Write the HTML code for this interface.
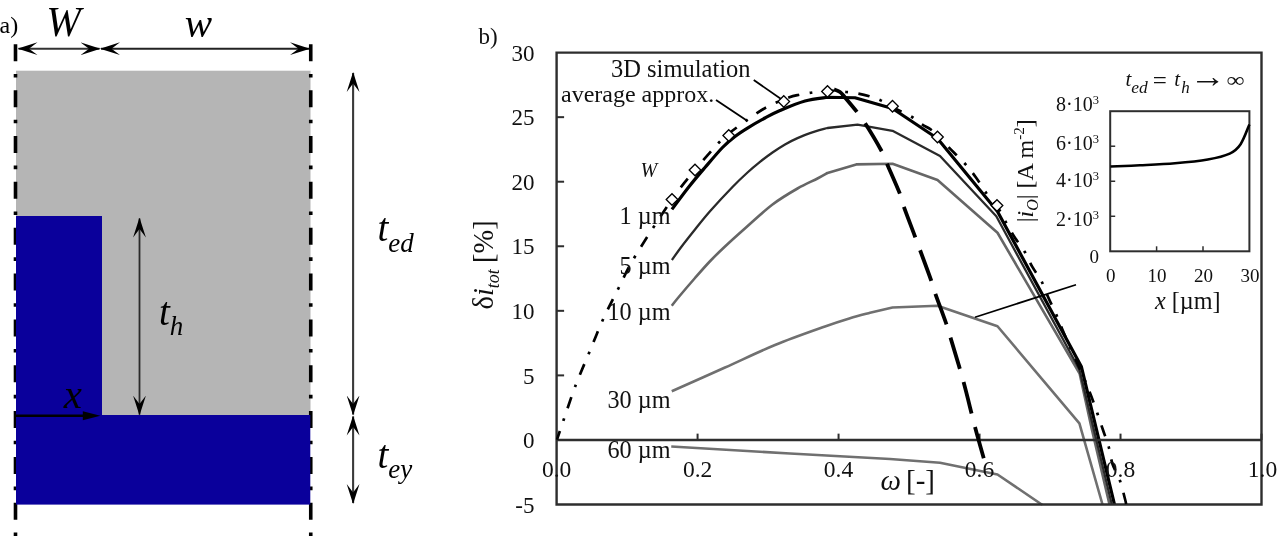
<!DOCTYPE html>
<html lang="en"><head><meta charset="utf-8"><title>Figure</title>
<style>
html,body{margin:0;padding:0;background:#fff;}
body{width:1280px;height:536px;overflow:hidden;}
svg{display:block;}
</style></head><body>
<svg width="1280" height="536" viewBox="0 0 1280 536">
<defs>
<marker id="ah" viewBox="0 0 20 14" refX="19" refY="7" markerWidth="20" markerHeight="14" markerUnits="userSpaceOnUse" orient="auto-start-reverse"><path d="M0 0.6 L20 7 L0 13.4 L8.5 7 Z" fill="#000"/></marker>
</defs>
<rect x="0" y="0" width="1280" height="536" fill="#fff"/>
<rect x="16" y="70.7" width="294.5" height="345" fill="#b5b5b5"/>
<line x1="15.50" y1="44.3" x2="15.50" y2="536" stroke="#000" stroke-width="3.6" stroke-dasharray="17 12.6 3.6 12.65"/>
<line x1="310.75" y1="44.3" x2="310.75" y2="536" stroke="#000" stroke-width="3.6" stroke-dasharray="17 12.6 3.6 12.65"/>
<rect x="16" y="216" width="86" height="200" fill="#0a009b"/>
<rect x="16" y="415" width="294.3" height="89.6" fill="#0a009b"/>
<line x1="18.5" y1="48.7" x2="99.5" y2="48.7" stroke="#333" stroke-width="1.9" marker-start="url(#ah)" marker-end="url(#ah)"/>
<line x1="101" y1="48.7" x2="309" y2="48.7" stroke="#222" stroke-width="2" marker-start="url(#ah)" marker-end="url(#ah)"/>
<line x1="139.5" y1="218.5" x2="139.5" y2="414.6" stroke="#2a2a2a" stroke-width="1.8" marker-start="url(#ah)" marker-end="url(#ah)"/>
<line x1="353.1" y1="73" x2="353.1" y2="414.5" stroke="#3a3a3a" stroke-width="2.1" marker-start="url(#ah)" marker-end="url(#ah)"/>
<line x1="353.1" y1="416.5" x2="353.1" y2="503" stroke="#3a3a3a" stroke-width="2.1" marker-start="url(#ah)" marker-end="url(#ah)"/>
<line x1="16" y1="415.7" x2="86" y2="415.7" stroke="#000" stroke-width="2.6"/>
<path d="M82.8 411.2 L100.4 415.7 L82.8 420.2 Z" fill="#000"/>
<g style="font-family:'Liberation Serif','DejaVu Serif',serif;" fill="#000">
<text x="-0.5" y="33" font-size="24">a)</text>
<text x="46.3" y="35.8" font-size="41.5" font-style="italic">W</text>
<text x="184.7" y="37.3" font-size="41" font-style="italic">w</text>
<text x="63.7" y="408" font-size="41" font-style="italic">x</text>
<text x="159" y="324.5" font-size="39" font-style="italic">t<tspan font-size="27" dy="10.5">h</tspan></text>
<text x="377.5" y="241.25" font-size="39" font-style="italic">t<tspan font-size="27" dy="10.6">ed</tspan></text>
<text x="377.5" y="467.5" font-size="39" font-style="italic">t<tspan font-size="27" dy="10">ey</tspan></text>
</g>
<clipPath id="cp"><rect x="554.60" y="52.60" width="708.90" height="452.90"/></clipPath>
<g clip-path="url(#cp)">
<path d="M671.25 446.50 L790.00 453.50 L890.00 459.00 L940.00 462.75 L997.50 474.50 L1042.50 505.00" fill="none" stroke="#707070" stroke-width="2.6" stroke-linejoin="round"/>
<path d="M671.75 391.25 C680.62 387.29 707.79 375.21 725.00 367.50 C742.21 359.79 758.33 351.83 775.00 345.00 C791.67 338.17 812.50 330.95 825.00 326.50 C837.50 322.05 842.50 320.58 850.00 318.30 C857.50 316.02 866.67 313.72 870.00 312.80 L892.50 307.50 L937.50 305.75 L997.50 326.25 L1079.40 423.30 L1102.50 504.50" fill="none" stroke="#707070" stroke-width="2.6" stroke-linejoin="round"/>
<path d="M671.75 305.75 C672.92 304.29 674.88 301.62 678.75 297.00 C682.62 292.38 689.79 283.96 695.00 278.00 C700.21 272.04 705.00 266.50 710.00 261.25 C715.00 256.00 719.00 252.12 725.00 246.50 C731.00 240.88 738.08 234.50 746.00 227.50 C753.92 220.50 763.92 211.00 772.50 204.50 C781.08 198.00 790.00 192.83 797.50 188.50 C805.00 184.17 812.50 181.08 817.50 178.50 C822.50 175.92 825.83 173.92 827.50 173.00 L856.25 164.40 L892.50 163.75 L937.50 180.00 L997.50 232.75 L1079.60 373.50 L1092.00 430.00 L1109.50 504.50" fill="none" stroke="#666" stroke-width="2.6" stroke-linejoin="round"/>
<path d="M671.90 260.00 C673.46 257.83 677.40 252.08 681.25 247.00 C685.10 241.92 690.21 235.46 695.00 229.50 C699.79 223.54 703.75 218.33 710.00 211.25 C716.25 204.17 726.25 193.46 732.50 187.00 C738.75 180.54 742.92 176.68 747.50 172.50 C752.08 168.32 755.83 165.23 760.00 161.90 C764.17 158.57 768.33 155.42 772.50 152.50 C776.67 149.58 780.83 146.80 785.00 144.40 C789.17 142.00 793.33 139.98 797.50 138.10 C801.67 136.22 805.00 134.78 810.00 133.10 C815.00 131.42 824.58 128.85 827.50 128.00 L857.50 124.60 L892.50 130.80 L940.00 156.00 L996.30 216.30 L1079.40 369.50 L1111.80 504.50" fill="none" stroke="#2a2a2a" stroke-width="2.3" stroke-linejoin="round"/>
<path d="M671.90 209.40 C674.71 205.67 683.23 193.98 688.75 187.00 C694.27 180.02 699.38 174.08 705.00 167.50 C710.62 160.92 717.50 152.67 722.50 147.50 C727.50 142.33 730.83 139.73 735.00 136.50 C739.17 133.27 742.50 131.18 747.50 128.10 C752.50 125.02 759.58 120.93 765.00 118.00 C770.42 115.07 773.33 113.33 780.00 110.50 C786.67 107.67 797.08 103.21 805.00 101.00 C812.92 98.79 823.75 97.88 827.50 97.25 L855.00 97.75 L892.50 108.50 L937.50 138.50 L997.50 211.50 L1081.30 366.40 L1114.50 504.50" fill="none" stroke="#000" stroke-width="3.2" stroke-linejoin="round"/>
</g>
<path d="M556.60 52.60 H1261.50 V504.50 H556.60 Z" fill="none" stroke="#2e2e2e" stroke-width="2.4"/>
<line x1="556.60" y1="439.94" x2="1261.50" y2="439.94" stroke="#2e2e2e" stroke-width="2.4"/>
<line x1="556.60" y1="117.16" x2="564.10" y2="117.16" stroke="#2e2e2e" stroke-width="2"/>
<line x1="556.60" y1="181.71" x2="564.10" y2="181.71" stroke="#2e2e2e" stroke-width="2"/>
<line x1="556.60" y1="246.27" x2="564.10" y2="246.27" stroke="#2e2e2e" stroke-width="2"/>
<line x1="556.60" y1="310.83" x2="564.10" y2="310.83" stroke="#2e2e2e" stroke-width="2"/>
<line x1="556.60" y1="375.39" x2="564.10" y2="375.39" stroke="#2e2e2e" stroke-width="2"/>
<line x1="697.58" y1="433.64" x2="697.58" y2="439.94" stroke="#2e2e2e" stroke-width="2"/>
<line x1="838.56" y1="433.64" x2="838.56" y2="439.94" stroke="#2e2e2e" stroke-width="2"/>
<line x1="979.54" y1="433.64" x2="979.54" y2="439.94" stroke="#2e2e2e" stroke-width="2"/>
<line x1="1120.52" y1="433.64" x2="1120.52" y2="439.94" stroke="#2e2e2e" stroke-width="2"/>
<line x1="1261.50" y1="433.64" x2="1261.50" y2="439.94" stroke="#2e2e2e" stroke-width="2"/>
<path id="dd" d="M557.00 439.70 C558.12 436.33 560.62 428.62 563.75 419.50 C566.88 410.38 571.50 396.17 575.75 385.00 C580.00 373.83 584.71 363.42 589.25 352.50 C593.79 341.58 598.08 330.29 603.00 319.50 C607.92 308.71 613.42 298.25 618.75 287.75 C624.08 277.25 626.12 271.21 635.00 256.50 C643.88 241.79 662.00 213.92 672.00 199.50 C682.00 185.08 687.17 179.50 695.00 170.00 C702.83 160.50 713.38 148.58 719.00 142.50 C724.62 136.42 722.58 138.29 728.75 133.50 C734.92 128.71 748.96 118.50 756.00 113.75 C763.04 109.00 765.54 107.71 771.00 105.00 C776.46 102.29 784.02 99.21 788.75 97.50 C793.48 95.79 795.69 95.54 799.40 94.75 C803.11 93.96 806.32 93.46 811.00 92.75 C815.68 92.04 821.67 90.62 827.50 90.50 C833.33 90.38 840.92 91.50 846.00 92.00 C851.08 92.50 854.10 92.79 858.00 93.50 C861.90 94.21 865.63 95.10 869.40 96.25 C873.17 97.40 876.00 98.21 880.60 100.40 C885.20 102.59 891.77 106.63 897.00 109.40 C902.23 112.17 907.83 114.50 912.00 117.00 C916.17 119.50 918.90 122.33 922.00 124.40 C925.10 126.47 928.02 127.63 930.60 129.40 C933.18 131.17 934.68 132.23 937.50 135.00 C940.32 137.77 942.92 141.21 947.50 146.00 C952.08 150.79 960.25 158.50 965.00 163.75 C969.75 169.00 972.50 172.67 976.00 177.50 C979.50 182.33 982.42 187.83 986.00 192.75 C989.58 197.67 994.33 202.38 997.50 207.00 C1000.67 211.62 1002.12 215.42 1005.00 220.50 C1007.88 225.58 1011.52 232.30 1014.80 237.50 C1018.08 242.70 1021.80 246.83 1024.70 251.70 C1027.60 256.57 1029.45 261.87 1032.20 266.70 C1034.95 271.53 1038.43 275.38 1041.20 280.70 C1043.97 286.02 1046.28 292.95 1048.80 298.60 C1051.32 304.25 1053.97 309.27 1056.30 314.60 C1058.63 319.93 1060.55 325.28 1062.80 330.60 C1065.05 335.92 1066.22 338.43 1069.80 346.50 C1073.38 354.57 1080.77 370.83 1084.30 379.00 C1087.83 387.17 1088.84 389.83 1091.00 395.50 C1093.16 401.17 1095.25 407.25 1097.25 413.00 C1099.25 418.75 1101.08 424.33 1103.00 430.00 C1104.92 435.67 1107.17 441.33 1108.75 447.00 C1110.33 452.67 1110.62 458.38 1112.50 464.00 C1114.38 469.62 1117.92 474.92 1120.00 480.75 C1122.08 486.58 1123.96 495.04 1125.00 499.00 C1126.04 502.96 1126.04 503.58 1126.25 504.50" fill="none" stroke="#000" stroke-width="2.7" stroke-dasharray="11.5 10.675 2.7 10.675" stroke-dashoffset="2.25" clip-path="url(#cp)"/>
<path id="dk" d="M833.00 89.00 C834.17 89.50 838.00 90.58 840.00 92.00 C842.00 93.42 842.17 94.17 845.00 97.50 C847.83 100.83 853.67 107.75 857.00 112.00 C860.33 116.25 861.00 116.67 865.00 123.00 C869.00 129.33 877.25 143.00 881.00 150.00 C884.75 157.00 884.33 157.67 887.50 165.00 C890.67 172.33 897.29 187.08 900.00 194.00 C902.71 200.92 901.25 199.42 903.75 206.50 C906.25 213.58 912.29 229.25 915.00 236.50 C917.71 243.75 917.33 242.75 920.00 250.00 C922.67 257.25 928.50 272.88 931.00 280.00 C933.50 287.12 932.50 285.58 935.00 292.75 C937.50 299.92 943.50 315.79 946.00 323.00 C948.50 330.21 947.17 326.50 950.00 336.00 C952.83 345.50 958.83 364.83 963.00 380.00 C967.17 395.17 971.54 413.96 975.00 427.00 C978.46 440.04 982.29 453.04 983.75 458.25" fill="none" stroke="#000" stroke-width="3.8" stroke-dasharray="32.3 14" stroke-dashoffset="-1.5"/>
<line x1="753.75" y1="80" x2="782.5" y2="100" stroke="#000" stroke-width="1.8"/>
<line x1="716" y1="100" x2="747.5" y2="121" stroke="#000" stroke-width="1.8"/>
<line x1="1076" y1="284.75" x2="975" y2="317.25" stroke="#000" stroke-width="1.8"/>
<path d="M666.20 199.50 L672.00 193.70 L677.80 199.50 L672.00 205.30 Z" fill="#fff" stroke="#000" stroke-width="1.3"/>
<path d="M689.20 170.00 L695.00 164.20 L700.80 170.00 L695.00 175.80 Z" fill="#fff" stroke="#000" stroke-width="1.3"/>
<path d="M722.95 135.50 L728.75 129.70 L734.55 135.50 L728.75 141.30 Z" fill="#fff" stroke="#000" stroke-width="1.3"/>
<path d="M777.95 101.50 L783.75 95.70 L789.55 101.50 L783.75 107.30 Z" fill="#fff" stroke="#000" stroke-width="1.3"/>
<path d="M821.70 91.50 L827.50 85.70 L833.30 91.50 L827.50 97.30 Z" fill="#fff" stroke="#000" stroke-width="1.3"/>
<path d="M886.70 106.25 L892.50 100.45 L898.30 106.25 L892.50 112.05 Z" fill="#fff" stroke="#000" stroke-width="1.3"/>
<path d="M931.70 137.00 L937.50 131.20 L943.30 137.00 L937.50 142.80 Z" fill="#fff" stroke="#000" stroke-width="1.3"/>
<path d="M991.20 205.50 L997.00 199.70 L1002.80 205.50 L997.00 211.30 Z" fill="#fff" stroke="#000" stroke-width="1.3"/>
<g style="font-family:'Liberation Serif','DejaVu Serif',serif;" fill="#111">
<text x="478.5" y="43.75" font-size="23">b)</text>
<text x="534.5" y="60.80" font-size="23" text-anchor="end">30</text>
<text x="534.5" y="125.36" font-size="23" text-anchor="end">25</text>
<text x="534.5" y="189.91" font-size="23" text-anchor="end">20</text>
<text x="534.5" y="254.47" font-size="23" text-anchor="end">15</text>
<text x="534.5" y="319.03" font-size="23" text-anchor="end">10</text>
<text x="534.5" y="383.59" font-size="23" text-anchor="end">5</text>
<text x="534.5" y="448.14" font-size="23" text-anchor="end">0</text>
<text x="534.5" y="512.70" font-size="23" text-anchor="end">-5</text>
<text x="556.60" y="477" font-size="23.5" text-anchor="middle">0.0</text>
<text x="697.58" y="477" font-size="23.5" text-anchor="middle">0.2</text>
<text x="838.56" y="477" font-size="23.5" text-anchor="middle">0.4</text>
<text x="979.54" y="477" font-size="23.5" text-anchor="middle">0.6</text>
<text x="1120.52" y="477" font-size="23.5" text-anchor="middle">0.8</text>
<text x="1262.50" y="477" font-size="23.5" text-anchor="middle">1.0</text>
<text x="611" y="76.6" font-size="24.5">3D simulation</text>
<text x="561" y="101.6" font-size="24">average approx.</text>
<text x="640.5" y="177.2" font-size="20" font-style="italic">W</text>
<text x="670.5" y="224" font-size="24.2" text-anchor="end">1 µm</text>
<text x="670.5" y="273.5" font-size="24.2" text-anchor="end">5 µm</text>
<text x="670.5" y="319.5" font-size="24.2" text-anchor="end">10 µm</text>
<text x="670.5" y="407.5" font-size="24.2" text-anchor="end">30 µm</text>
<text x="670.5" y="457.5" font-size="24.2" text-anchor="end">60 µm</text>
<text x="880.5" y="489.5" font-size="29"><tspan font-style="italic">ω</tspan><tspan dx="5">[-]</tspan></text>
<text transform="translate(493.3 309.5) rotate(-90)" font-size="28.5">δ<tspan font-style="italic">i</tspan><tspan font-style="italic" font-size="18" dy="6">tot</tspan><tspan dy="-6" dx="-1"> [%]</tspan></text>
</g>
<rect x="1110.20" y="111.20" width="139.20" height="140.10" fill="#fff" stroke="#2e2e2e" stroke-width="2"/>
<line x1="1110.20" y1="216.28" x2="1115.20" y2="216.28" stroke="#2e2e2e" stroke-width="1.5"/>
<line x1="1110.20" y1="181.25" x2="1115.20" y2="181.25" stroke="#2e2e2e" stroke-width="1.5"/>
<line x1="1110.20" y1="146.22" x2="1115.20" y2="146.22" stroke="#2e2e2e" stroke-width="1.5"/>
<line x1="1156.60" y1="246.30" x2="1156.60" y2="251.30" stroke="#2e2e2e" stroke-width="1.5"/>
<line x1="1203.00" y1="246.30" x2="1203.00" y2="251.30" stroke="#2e2e2e" stroke-width="1.5"/>
<path d="M1110.50 166.50 C1115.42 166.30 1129.25 165.83 1140.00 165.30 C1150.75 164.77 1163.70 164.27 1175.00 163.30 C1186.30 162.33 1198.68 161.12 1207.80 159.50 C1216.92 157.88 1224.23 156.15 1229.70 153.60 C1235.17 151.05 1237.32 149.05 1240.60 144.20 C1243.88 139.35 1247.93 127.78 1249.40 124.50" fill="none" stroke="#000" stroke-width="2.6"/>
<g style="font-family:'Liberation Serif','DejaVu Serif',serif;" fill="#111">
<text x="1056" y="111.25" font-size="20">8·10<tspan font-size="12.5" dy="-7.5">3</tspan></text>
<text x="1056" y="150.00" font-size="20">6·10<tspan font-size="12.5" dy="-7.5">3</tspan></text>
<text x="1056" y="187.30" font-size="20">4·10<tspan font-size="12.5" dy="-7.5">3</tspan></text>
<text x="1056" y="226.00" font-size="20">2·10<tspan font-size="12.5" dy="-7.5">3</tspan></text>
<text x="1099" y="263" font-size="19" text-anchor="end">0</text>
<text x="1110.70" y="282" font-size="19" text-anchor="middle">0</text>
<text x="1157.10" y="282" font-size="19" text-anchor="middle">10</text>
<text x="1203.50" y="282" font-size="19" text-anchor="middle">20</text>
<text x="1249.90" y="282" font-size="19" text-anchor="middle">30</text>
<text x="1155" y="309" font-size="24.2"><tspan font-style="italic">x</tspan> [µm]</text>
<text x="1125.5" y="86.25" font-size="21" font-style="italic">t<tspan font-size="17.5" dy="6.5">ed</tspan></text>
<text x="1152.8" y="89" font-size="25">=</text>
<text x="1174.2" y="86.25" font-size="21" font-style="italic">t<tspan font-size="17" dy="6.5" dx="1.2">h</tspan></text>
<text transform="translate(1189.85 86.9) scale(1.14 1)" font-size="31.5">→</text>
<text transform="translate(1226.25 87.25) scale(1.23 1)" font-size="21">∞</text>
<text transform="translate(1033.2 222.3) rotate(-90)" font-size="24">|<tspan font-style="italic">i</tspan><tspan font-style="italic" font-size="16" dy="5">O</tspan><tspan dy="-5">| [A m</tspan><tspan font-size="15" dy="-9">-2</tspan><tspan dy="9">]</tspan></text>
</g>
</svg>
</body></html>
